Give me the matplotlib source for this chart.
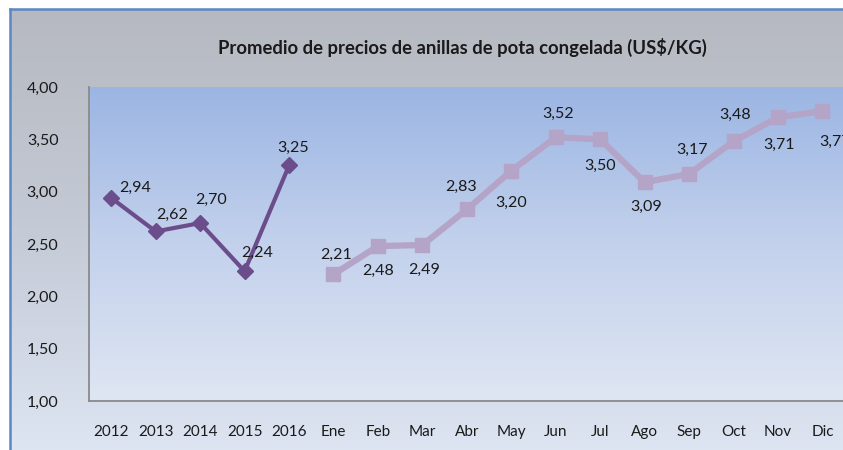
import numpy as np
import matplotlib.pyplot as plt
from matplotlib.colors import LinearSegmentedColormap
from matplotlib.lines import Line2D

plt.rcParams['font.family'] = ['Lato', 'DejaVu Sans']

# datos
anios = ["2012", "2013", "2014", "2015", "2016"]
precios_anios = [2.94, 2.62, 2.70, 2.24, 3.25]
meses = ["Ene", "Feb", "Mar", "Abr", "May", "Jun", "Jul", "Ago", "Sep", "Oct", "Nov", "Dic"]
precios_meses = [2.21, 2.48, 2.49, 2.83, 3.20, 3.52, 3.50, 3.09, 3.17, 3.48, 3.71, 3.77]
y_ticks = [1.0, 1.5, 2.0, 2.5, 3.0, 3.5, 4.0]

# desplazamiento de las etiquetas (puntos)
off_anios = [(17, 7), (12, 12), (8, 17), (9, 13), (3, 13)]
off_meses = [(2, 14), (0, -18), (1, -18), (-4, 16), (0, -23), (2, 17),
             (0, -19), (1, -18), (2, 17), (1, 19), (1, -20), (9, -22)]

fig = plt.figure(figsize=(8.43, 4.5), dpi=100)
fig.patch.set_facecolor("white")

# fondo del grafico con degradado
x0, y1 = 10 / 843, 1 - 9 / 450
grad = np.linspace(0, 1, 256).reshape(-1, 1)
bg = fig.add_axes([x0, 0, 1 - x0, y1], zorder=-10)
bg.set_axis_off()
cm_out = LinearSegmentedColormap.from_list("out", ["#dde5f2", "#c4cad6", "#b6b9c0"])
bg.imshow(grad, cmap=cm_out, aspect="auto", origin="lower", extent=[0, 1, 0, 1])
bg.set_xlim(0, 1)
bg.set_ylim(0, 1)
fig.add_artist(Line2D([x0, x0], [0, y1], color="#5b87c5", linewidth=1.8))
fig.add_artist(Line2D([x0, 1], [y1, y1], color="#5b87c5", linewidth=1.8))

ax = fig.add_axes([89 / 843, 1 - 401 / 450, 1 - 89 / 843 + 0.002, 314 / 450])
ax.set_facecolor("none")

ax.plot(anios, precios_anios, color="#6c4d8b", linewidth=3, marker="D",
        markersize=8, zorder=3)
ax.plot(meses, precios_meses, color="#b4a4c8", linewidth=4.5, marker="s",
        markersize=10, zorder=3)

cm_in = LinearSegmentedColormap.from_list("in", ["#dfe6f3", "#c3d1ec", "#9bb5e3"])
ax.imshow(grad, cmap=cm_in, aspect="auto", origin="lower",
          extent=[-0.5, 16.5, 1.0, 4.0], zorder=0)

ax.set_xlim(-0.5, 16.5)
ax.set_ylim(1.0, 4.0)
ax.set_yticks(y_ticks)
ax.set_yticklabels([f"{v:.2f}".replace(".", ",") for v in y_ticks])

for i, (v, off) in enumerate(zip(precios_anios, off_anios)):
    ax.annotate(f"{v:.2f}".replace(".", ","), (i, v), xytext=off, textcoords="offset points",
                ha="center", va="center", fontsize=11.5, color="#1a1a1a", zorder=4)
for i, (v, off) in enumerate(zip(precios_meses, off_meses)):
    ax.annotate(f"{v:.2f}".replace(".", ","), (i + len(anios), v), xytext=off,
                textcoords="offset points", ha="center", va="center", fontsize=11.5,
                color="#1a1a1a", zorder=4, annotation_clip=False)

for s in ["top", "right"]:
    ax.spines[s].set_visible(False)
for s in ["left", "bottom"]:
    ax.spines[s].set_color("#8a8a8a")
    ax.spines[s].set_linewidth(1.3)
ax.tick_params(axis="y", length=0, pad=22, labelsize=11.5, labelcolor="#1a1a1a")
ax.tick_params(axis="x", length=0, pad=17, labelsize=11, labelcolor="#1a1a1a")

fig.text(462 / 843, 1 - 47 / 450, "Promedio de precios de anillas de pota congelada (US\\$/KG)",
         ha="center", va="center", fontsize=13.3, fontweight="bold", color="#1a1a1a")

fig.savefig("out.png", dpi=100)
